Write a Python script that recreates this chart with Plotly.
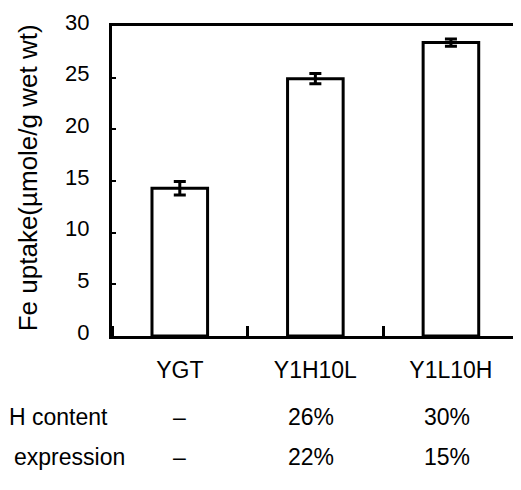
import plotly.graph_objects as go

categories = ["YGT", "Y1H10L", "Y1L10H"]
fe_uptake = [14.3, 24.9, 28.4]
fe_err = [0.65, 0.5, 0.35]
row_labels = ["H content", "expression"]
h_content = ["–", "26%", "30%"]
expression = ["–", "22%", "15%"]
y_ticks = [0, 5, 10, 15, 20, 25, 30]

FONT = "Liberation Sans, Arial, sans-serif"
xpos = list(range(len(categories)))

# page has an 8px body margin; plot area in page coords: x 112..519, y 11..336
PX0, PW, PY0, PH = 112, 407, 336, 325

def px(xp):
    return (xp - PX0) / PW

def py(yp):
    return (PY0 - yp) / PH

fig = go.Figure()
fig.add_trace(go.Bar(
    x=xpos, y=fe_uptake, width=0.41,
    marker=dict(color="white", line=dict(color="black", width=3)),
    error_y=dict(type="data", array=fe_err, visible=True, color="black",
                 thickness=3, width=6),
    showlegend=False,
))

fig.update_layout(
    width=513, height=482,
    margin=dict(l=104, r=2, t=3, b=154),
    plot_bgcolor="white", paper_bgcolor="white",
    font=dict(family=FONT, size=23, color="black"),
    xaxis=dict(
        range=[-0.5, 2.48], tickvals=xpos, ticktext=categories,
        ticks="", showgrid=False, zeroline=False,
        showline=True, linecolor="black", linewidth=3, mirror=True,
        ticklabelstandoff=11,
        minor=dict(tick0=0.5, dtick=1, ticks="inside", ticklen=10,
                   tickwidth=3, tickcolor="black", showgrid=False),
        tickfont=dict(size=23),
    ),
    yaxis=dict(
        range=[0, 30], tickvals=y_ticks, ticks="inside", ticklen=4,
        tickwidth=1.5, tickcolor="black", showgrid=False, zeroline=False,
        showline=True, linecolor="black", linewidth=3, mirror=True,
        ticklabelstandoff=15, ticklabelshift=-4, ticklabeloverflow="allow",
        tickfont=dict(size=22),
    ),
)

fig.add_annotation(
    text="Fe uptake(µmole/g wet wt)", textangle=-90,
    xref="paper", yref="paper", x=px(27), y=py(170),
    xanchor="center", yanchor="middle", showarrow=False,
    font=dict(size=26),
)

row_y = [py(421), py(463)]
row_right = [110, 127]
for label, yy, xr, vals in zip(row_labels, row_y, row_right, [h_content, expression]):
    fig.add_annotation(text=label, xref="paper", yref="paper",
                       x=px(xr), y=yy, xanchor="right",
                       yanchor="middle", showarrow=False, font=dict(size=23))
    for xi, v in zip(xpos, vals):
        is_dash = v == "–"
        fig.add_annotation(text=v, xref="x", yref="paper",
                           x=xi if is_dash else xi - 0.03, y=yy,
                           xanchor="center", yanchor="middle",
                           showarrow=False, font=dict(size=23))

fig.write_html("out.html")
